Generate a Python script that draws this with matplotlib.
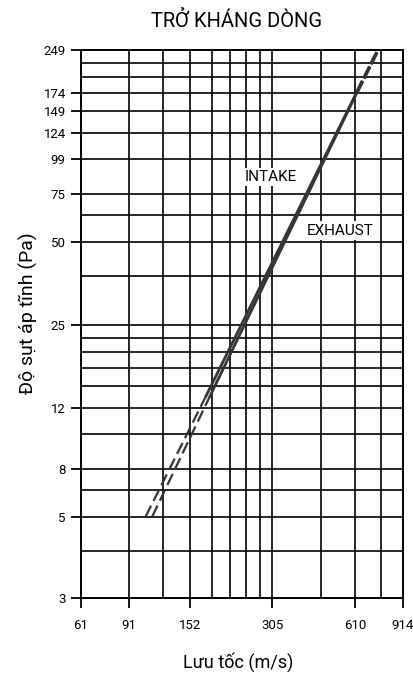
import matplotlib
matplotlib.use("Agg")
import matplotlib.pyplot as plt
from matplotlib import font_manager
from matplotlib.ticker import NullFormatter

# ---------------- data ----------------
title = "TRỞ KHÁNG DÒNG"
x_label = "Lưu tốc (m/s)"
y_label = "Độ sụt áp tĩnh (Pa)"

x_ticks = [61, 91, 152, 305, 610, 914]
x_tick_labels = ["61", "91", "152", "305", "610", "914"]
x_grid_minor = [122, 183, 213, 244, 274, 457, 762]

y_ticks = [2.53, 4.98, 7.47, 12.45, 24.9, 49.8, 74.7, 99.6, 124.5, 149.4, 174.3, 249]
y_tick_labels = ["3", "5", "8", "12", "25", "50", "75", "99", "124", "149", "174", "249"]
y_grid_minor = [3.74, 6.23, 9.96, 14.9, 17.4, 19.9, 22.4, 37.4, 62.3, 199.2, 224.1]

# curve break points (velocity m/s, pressure Pa)
intake_v = [105, 173, 618, 741]
intake_p = [5, 13.5, 174, 249]
exhaust_v = [111, 179, 620, 741]
exhaust_p = [5, 13.5, 174, 249]

labels = ["INTAKE", "EXHAUST"]
label_pos_v = [301, 538]
label_pos_p = [86, 54.8]

# ---------------- fonts ----------------
names = {f.name for f in font_manager.fontManager.ttflist}
main_font = "Liberation Sans Narrow" if "Liberation Sans Narrow" in names else "Roboto"
fam = [main_font, "DejaVu Sans"]
plt.rcParams["font.family"] = fam

W, H = 414, 677
fig = plt.figure(figsize=(W / 100, H / 100), dpi=100)
ax = fig.add_axes([81 / W, 1 - 598 / H, (403 - 81) / W, (598 - 50) / H])

ax.set_xscale("log")
ax.set_yscale("log")
ax.set_xlim(x_ticks[0], x_ticks[-1])
ax.set_ylim(y_ticks[0], y_ticks[-1])

ax.set_xticks(x_ticks)
ax.set_xticklabels(x_tick_labels)
ax.set_xticks(x_grid_minor, minor=True)
ax.set_yticks(y_ticks)
ax.set_yticklabels(y_tick_labels)
ax.set_yticks(y_grid_minor, minor=True)
ax.xaxis.set_minor_formatter(NullFormatter())
ax.yaxis.set_minor_formatter(NullFormatter())

ax.tick_params(which="major", length=7, width=1.3, color="black",
               labelsize=9.5, pad=4)
ax.tick_params(axis="x", which="major", pad=8)
ax.tick_params(which="minor", length=0)

ax.grid(True, which="both", color="black", linewidth=1.2)
ax.set_axisbelow(True)
for s in ax.spines.values():
    s.set_linewidth(1.4)
    s.set_color("black")

line_color = "#353535"
low_style = (0, (5.5, 2.4))
top_style = (0, (4, 0.8))

for vs, ps in ((intake_v, intake_p), (exhaust_v, exhaust_p)):
    ax.plot(vs[0:2], ps[0:2], color=line_color, lw=1.6, linestyle=low_style,
            solid_capstyle="butt", dash_capstyle="butt", zorder=3)
    ax.plot(vs[1:3], ps[1:3], color=line_color, lw=2.0, linestyle="-",
            solid_capstyle="butt", zorder=3)
    ax.plot(vs[2:4], ps[2:4], color=line_color, lw=2.4, linestyle=top_style,
            dash_capstyle="butt", zorder=3)

for lab, lv, lp in zip(labels, label_pos_v, label_pos_p):
    ax.text(lv, lp, lab, ha="center", va="center", fontsize=11, color="black",
            zorder=4,
            bbox=dict(boxstyle="square,pad=0.15", facecolor="white", edgecolor="none"))

fig.text(237 / W, 1 - 27 / H, title, ha="center", va="baseline", fontsize=14.5)
fig.text(238 / W, 1 - 668 / H, x_label, ha="center", va="baseline", fontsize=13)
fig.text(28 / W, 1 - 313 / H, y_label, ha="center", va="center", rotation=90,
         fontsize=14)

fig.savefig("out.png", dpi=100)
